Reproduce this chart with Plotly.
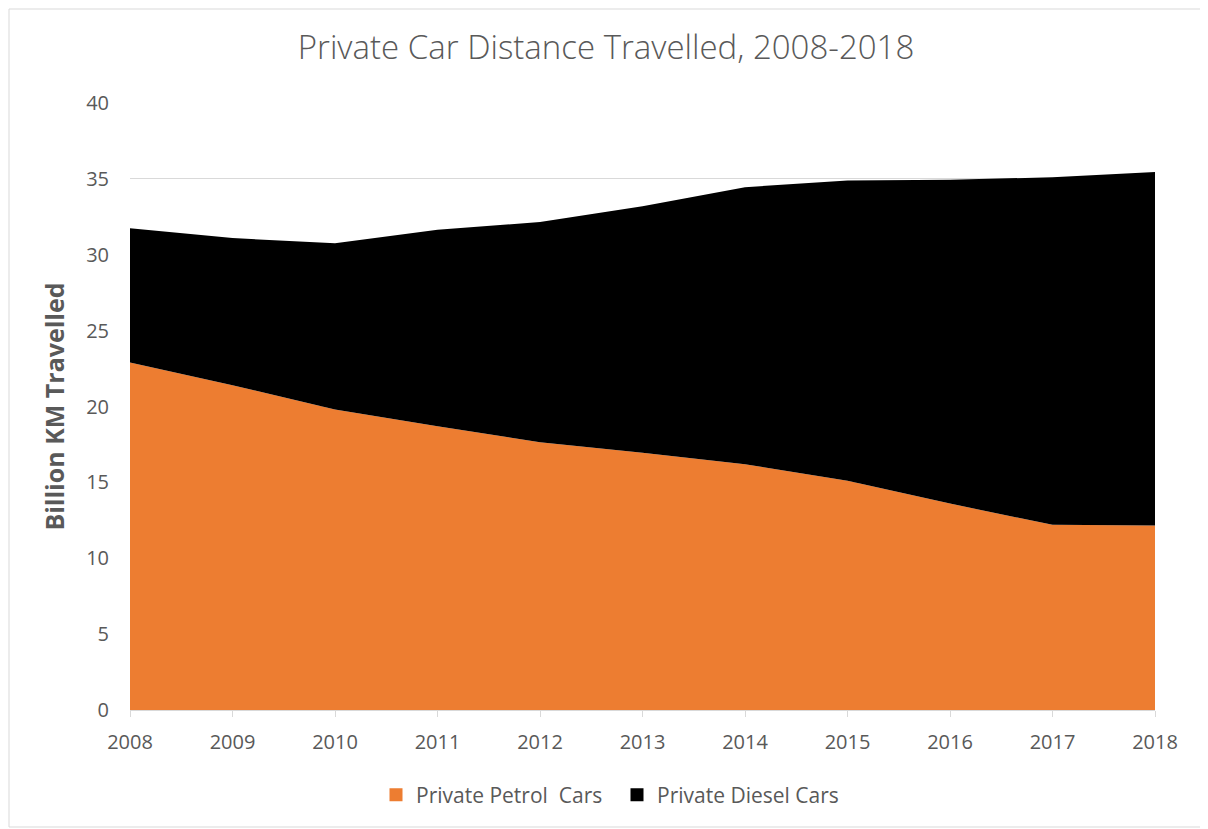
import plotly.graph_objects as go

years = [2008, 2009, 2010, 2011, 2012, 2013, 2014, 2015, 2016, 2017, 2018]
petrol = [22.9, 21.4, 19.8, 18.7, 17.65, 16.95, 16.2, 15.1, 13.6, 12.2, 12.15]
total = [31.75, 31.1, 30.75, 31.65, 32.15, 33.2, 34.45, 34.9, 34.95, 35.1, 35.45]
diesel = [round(t - p, 2) for t, p in zip(total, petrol)]
names = ["Private Petrol  Cars", "Private Diesel Cars"]
colors = ["#ED7D31", "#000000"]

OFF = 8  # page body margin
W, H = 1208 - OFF, 829 - OFF
ml, mt = 130 - OFF, 103 - OFF
mr = 1208 - 1155
pw = W - ml - mr
ph = 607
mb = H - mt - ph

fig = go.Figure()
for name, vals, col in zip(names, [petrol, diesel], colors):
    fig.add_trace(go.Scatter(x=years, y=vals, name=name, mode="lines",
                             stackgroup="one", line=dict(width=0, color=col),
                             fillcolor=col, showlegend=False))
# legend entries with square swatches
for name, col in zip(names, colors):
    fig.add_trace(go.Scatter(x=[None], y=[None], name=name, mode="markers",
                             marker=dict(symbol="square", size=13, color=col)))

fig.update_layout(
    width=W, height=H,
    margin=dict(l=ml, r=mr, t=mt, b=mb),
    paper_bgcolor="white", plot_bgcolor="white",
    title=dict(text="Private Car Distance Travelled, 2008-2018",
               font=dict(family="Open Sans", size=33, color="#595959", weight=300),
               x=(606 - OFF) / W, xanchor="center", y=1 - (47 - OFF) / H, yanchor="middle"),
    font=dict(family="Open Sans", color="#595959"),
    xaxis=dict(range=[2008, 2018], tickmode="array", tickvals=years,
               ticktext=[str(y) for y in years], showgrid=False,
               showline=True, linecolor="#d9d9d9", linewidth=1,
               ticks="outside", ticklen=6, tickcolor="#d9d9d9",
               ticklabelstandoff=8,
               tickfont=dict(size=20, color="#595959"), zeroline=False),
    yaxis=dict(range=[0, 40], dtick=5, showgrid=True, gridcolor="#d9d9d9",
               gridwidth=1, zeroline=False, ticks="", ticklen=0,
               ticklabelstandoff=20,
               tickfont=dict(size=20, color="#595959"),
               title=dict(text="<b>Billion KM Travelled</b>",
                          font=dict(size=25, color="#595959"), standoff=14)),
    legend=dict(orientation="h", x=(617 - OFF - ml) / pw, xanchor="center",
                y=-(795 - 710) / ph, yanchor="middle",
                font=dict(size=21, color="#595959"),
                traceorder="normal", itemwidth=30,
                entrywidth=196, entrywidthmode="pixels"),
    shapes=[dict(type="rect", xref="paper", yref="paper",
                 x0=-(ml - 1) / pw, x1=1 + (mr - 2) / pw,
                 y0=-(mb - 2) / ph, y1=1 + (mt - 1) / ph,
                 line=dict(color="#d9d9d9", width=1), fillcolor="rgba(0,0,0,0)",
                 layer="below")],
)

fig.write_html("out.html")
